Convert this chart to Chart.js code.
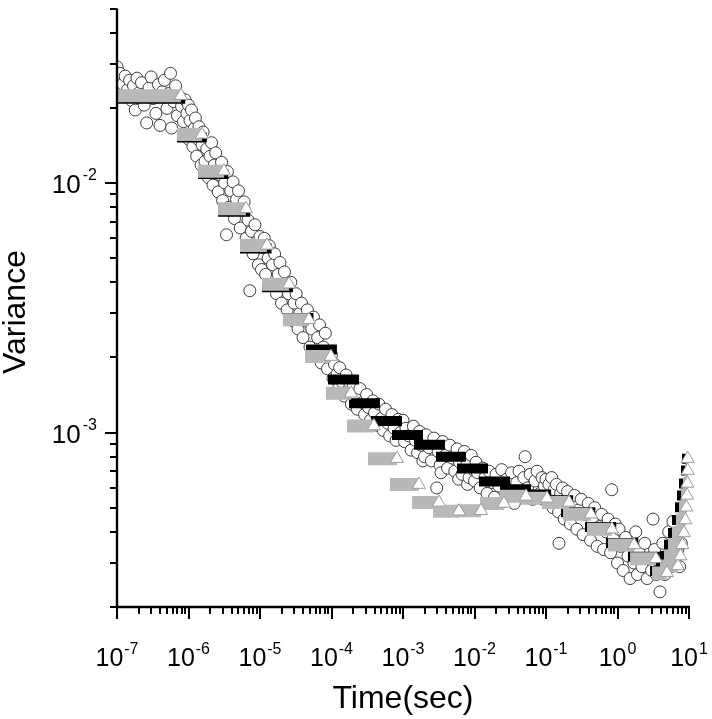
<!DOCTYPE html>
<html>
<head>
<meta charset="utf-8">
<script src="https://cdn.jsdelivr.net/npm/chart.js@4.4.1/dist/chart.umd.min.js"></script>
<style>
    html, body { margin: 0; padding: 0; background: #fff; }
    #wrap { width: 712px; height: 719px; }
</style>
</head>
<body>
<div id="wrap"><canvas id="variance-graph" width="712" height="719"></canvas></div>
<script>
// axis ranges and tick labels
const xRange = [1e-7, 10];
const yRange = [2e-4, 5e-2];
const xDecades = [1e-7, 1e-6, 1e-5, 1e-4, 1e-3, 1e-2, 1e-1, 1, 10];
const xTickExponents = ["-7", "-6", "-5", "-4", "-3", "-2", "-1", "0", "1"];
const yDecades = [1e-4, 1e-3, 1e-2];
const yTickExponents = ["-4", "-3", "-2"];
const tickMultiples = [1, 2, 3, 4, 5, 6, 7, 8, 9];

// open circles: [time (s), variance]
const circlePoints = [
    [1.0e-7, 0.0292], [1.0e-7, 0.0262], [1.05e-7, 0.0238], [1.1e-7, 0.0275], [1.2e-7, 0.0249], [1.25e-7, 0.0222],
    [1.3e-7, 0.0268], [1.4e-7, 0.0236], [1.5e-7, 0.0258], [1.6e-7, 0.0214], [1.7e-7, 0.0245], [1.8e-7, 0.0196],
    [1.9e-7, 0.0263], [2.0e-7, 0.0229], [2.2e-7, 0.0252], [2.4e-7, 0.0205], [2.6e-7, 0.0174], [2.8e-7, 0.0240],
    [3.0e-7, 0.0266], [3.2e-7, 0.0218], [3.5e-7, 0.0190], [3.8e-7, 0.0248], [4.0e-7, 0.0170], [4.3e-7, 0.0232],
    [4.6e-7, 0.0258], [5.0e-7, 0.0199], [5.3e-7, 0.0228], [5.6e-7, 0.0275], [5.8e-7, 0.0166], [6.2e-7, 0.0212],
    [6.6e-7, 0.0245], [7.0e-7, 0.0186], [7.5e-7, 0.0222], [8.0e-7, 0.0203], [8.5e-7, 0.0176], [9.0e-7, 0.0215],
    [9.5e-7, 0.0190],
    [1.0e-6, 0.0205], [1.0e-6, 0.0150], [1.05e-6, 0.0178], [1.1e-6, 0.0196], [1.15e-6, 0.0140], [1.2e-6, 0.0165],
    [1.25e-6, 0.0182], [1.3e-6, 0.0128], [1.35e-6, 0.0150], [1.4e-6, 0.0168], [1.5e-6, 0.0118], [1.55e-6, 0.0142],
    [1.6e-6, 0.0160], [1.7e-6, 0.0122], [1.8e-6, 0.0137], [1.9e-6, 0.0105], [2.0e-6, 0.0128], [2.1e-6, 0.0145],
    [2.2e-6, 0.0098], [2.3e-6, 0.0118], [2.4e-6, 0.0132], [2.6e-6, 0.0092], [2.7e-6, 0.0108], [2.9e-6, 0.0121],
    [3.0e-6, 0.0085], [3.2e-6, 0.0100], [3.4e-6, 0.0062], [3.5e-6, 0.0111], [3.7e-6, 0.0080], [3.9e-6, 0.0093],
    [4.2e-6, 0.0101], [4.4e-6, 0.0072], [4.7e-6, 0.0086], [5.0e-6, 0.0093], [5.3e-6, 0.0066], [5.6e-6, 0.0078],
    [6.0e-6, 0.0084], [6.4e-6, 0.0060], [6.8e-6, 0.0071], [7.2e-6, 0.0037], [7.6e-6, 0.0064], [8.0e-6, 0.0052],
    [8.5e-6, 0.0068], [9.0e-6, 0.0058], [9.5e-6, 0.0047],
    [1.0e-5, 0.0061], [1.05e-5, 0.0045], [1.1e-5, 0.0055], [1.15e-5, 0.0060], [1.2e-5, 0.0043], [1.3e-5, 0.0050],
    [1.35e-5, 0.0056], [1.4e-5, 0.0039], [1.5e-5, 0.0047], [1.6e-5, 0.0052], [1.7e-5, 0.0036], [1.8e-5, 0.0043],
    [1.9e-5, 0.0048], [2.0e-5, 0.0033], [2.1e-5, 0.0039], [2.2e-5, 0.0044], [2.4e-5, 0.0031], [2.5e-5, 0.0036],
    [2.7e-5, 0.0040], [2.9e-5, 0.0028], [3.0e-5, 0.0033], [3.2e-5, 0.0036], [3.4e-5, 0.0026], [3.6e-5, 0.0030],
    [3.8e-5, 0.0033], [4.0e-5, 0.0024], [4.3e-5, 0.0028], [4.6e-5, 0.0031], [5.0e-5, 0.0022], [5.3e-5, 0.0026],
    [5.6e-5, 0.0029], [6.0e-5, 0.0021], [6.4e-5, 0.0024], [6.8e-5, 0.0027], [7.2e-5, 0.0019], [7.7e-5, 0.0022],
    [8.2e-5, 0.0025], [8.8e-5, 0.0018], [9.4e-5, 0.0021],
    [1.0e-4, 0.00205], [1.05e-4, 0.00165], [1.1e-4, 0.00188], [1.2e-4, 0.00172], [1.25e-4, 0.00150], [1.3e-4, 0.00182],
    [1.4e-4, 0.00160], [1.5e-4, 0.00140], [1.6e-4, 0.00170], [1.7e-4, 0.00148], [1.8e-4, 0.00158], [1.9e-4, 0.00130],
    [2.0e-4, 0.00152], [2.2e-4, 0.00140], [2.3e-4, 0.00124], [2.5e-4, 0.00150], [2.7e-4, 0.00132], [2.9e-4, 0.00118],
    [3.1e-4, 0.00142], [3.3e-4, 0.00126], [3.5e-4, 0.00112], [3.8e-4, 0.00134], [4.0e-4, 0.00120], [4.3e-4, 0.00107],
    [4.6e-4, 0.00130], [5.0e-4, 0.00114], [5.3e-4, 0.00102], [5.7e-4, 0.00124], [6.1e-4, 0.00109], [6.5e-4, 0.00097],
    [7.0e-4, 0.00118], [7.5e-4, 0.00104], [8.0e-4, 0.00093], [8.6e-4, 0.00113], [9.2e-4, 0.00100],
    [1.0e-3, 0.00112], [1.05e-3, 0.00092], [1.1e-3, 0.00104], [1.2e-3, 0.00097], [1.3e-3, 0.00085], [1.4e-3, 0.00106],
    [1.5e-3, 0.00093], [1.6e-3, 0.00083], [1.7e-3, 0.00101], [1.8e-3, 0.00089], [1.9e-3, 0.00077], [2.0e-3, 0.00080],
    [2.1e-3, 0.00098], [2.3e-3, 0.00087], [2.5e-3, 0.00077], [2.7e-3, 0.00095], [2.96e-3, 0.00060], [3.1e-3, 0.00084],
    [3.3e-3, 0.00074], [3.4e-3, 0.00069], [3.6e-3, 0.00092], [3.9e-3, 0.00081], [4.2e-3, 0.00072], [4.5e-3, 0.00089],
    [4.9e-3, 0.00079], [5.3e-3, 0.00070], [5.7e-3, 0.00086], [6.0e-3, 0.00065], [6.2e-3, 0.00076], [6.7e-3, 0.00068],
    [7.2e-3, 0.00084], [7.8e-3, 0.00074], [8.0e-3, 0.00062], [8.4e-3, 0.00066], [9.0e-3, 0.00081], [9.6e-3, 0.00071],
    [1.0e-2, 0.00064], [1.05e-2, 0.00076], [1.1e-2, 0.00069], [1.2e-2, 0.00060], [1.3e-2, 0.00072], [1.4e-2, 0.00066],
    [1.5e-2, 0.00057], [1.6e-2, 0.00070], [1.8e-2, 0.00063], [1.9e-2, 0.00055], [2.0e-2, 0.00068], [2.2e-2, 0.00061],
    [2.4e-2, 0.00071], [2.6e-2, 0.00053], [2.8e-2, 0.00065], [3.0e-2, 0.00059], [3.3e-2, 0.00069], [3.6e-2, 0.00052],
    [3.9e-2, 0.00063], [4.2e-2, 0.00070], [4.5e-2, 0.00056], [4.9e-2, 0.00066], [5.1e-2, 0.00080], [5.5e-2, 0.00060],
    [6.0e-2, 0.00068], [6.5e-2, 0.00054], [7.0e-2, 0.00064], [7.5e-2, 0.00070], [8.2e-2, 0.00057], [8.8e-2, 0.00066],
    [9.5e-2, 0.00061],
    [0.10, 0.00065], [0.105, 0.00055], [0.11, 0.00062], [0.12, 0.00066], [0.125, 0.00050], [0.13, 0.00059],
    [0.14, 0.00062], [0.15, 0.00048], [0.152, 0.00036], [0.16, 0.00057], [0.17, 0.00060], [0.18, 0.00045],
    [0.19, 0.00054], [0.20, 0.00058], [0.22, 0.00043], [0.23, 0.00052], [0.25, 0.00056], [0.27, 0.00041],
    [0.29, 0.00049], [0.31, 0.00054], [0.33, 0.00039], [0.36, 0.00047], [0.39, 0.00052], [0.42, 0.00037],
    [0.45, 0.00044], [0.48, 0.00050], [0.52, 0.00035], [0.56, 0.00042], [0.60, 0.00047], [0.64, 0.00034],
    [0.69, 0.00040], [0.74, 0.00045], [0.80, 0.00033], [0.83, 0.00059], [0.87, 0.00038], [0.93, 0.00043],
    [1.0, 0.00030], [1.05, 0.00041], [1.1, 0.00035], [1.2, 0.00028], [1.3, 0.00038], [1.4, 0.00032],
    [1.5, 0.00026], [1.6, 0.00035], [1.7, 0.00030], [1.8, 0.00040], [1.9, 0.00027], [2.0, 0.00033],
    [2.2, 0.00029], [2.4, 0.00036], [2.6, 0.00026], [2.8, 0.00031], [3.0, 0.00028], [3.14, 0.00045],
    [3.3, 0.00034], [3.5, 0.00027], [3.7, 0.00031], [3.93, 0.00023], [4.1, 0.00029], [4.3, 0.00036],
    [4.6, 0.00027], [4.9, 0.00032], [5.2, 0.00040], [5.5, 0.00029], [5.8, 0.00035], [5.97, 0.00044],
    [6.3, 0.00031], [6.6, 0.00038], [7.0, 0.00034], [7.4, 0.00029], [7.8, 0.00036]
];

// grey triangle steps (start time, end time, level)
const greyStart = [1e-7, 6.9e-7, 1.36e-6, 2.59e-6, 5.25e-6, 1.07e-5, 2.1e-5, 4.26e-5, 8.37e-5, 1.65e-4, 3.24e-4,
    6.58e-4, 1.34e-3, 2.63e-3, 5.69e-3, 0.01194, 0.02274, 0.0447, 0.0879, 0.173, 0.374, 0.736, 1.5, 3.04,
    3.93, 4.47, 5.08, 5.78, 6.58, 7.25, 7.73, 8.24, 8.79, 9.08];
const greyEnd = [7.85e-7, 1.54e-6, 3.13e-6, 6.37e-6, 1.25e-5, 2.55e-5, 4.84e-5, 9.8e-5, 1.88e-4, 3.92e-4, 8.24e-4,
    1.67e-3, 3.18e-3, 6.06e-3, 0.01233, 0.02584, 0.0525, 0.1033, 0.2099, 0.425, 0.837, 1.706, 3.45, 4.92,
    7.0, 7.6, 8.1, 8.5, 8.9, 9.2, 9.4, 9.5, 9.6, 9.6];
const greyLevel = [0.02236, 0.01565, 0.01115, 0.00788, 0.00562, 0.00393, 0.00283, 0.002016, 0.001437, 0.001062,
    7.86e-4, 6.19e-4, 5.25e-4, 4.84e-4, 4.86e-4, 5.2e-4, 5.55e-4, 5.45e-4, 5.25e-4, 4.71e-4, 4.1e-4, 3.545e-4,
    3.12e-4, 2.74e-4, 2.92e-4, 3.2e-4, 3.55e-4, 3.96e-4, 4.46e-4, 5.02e-4, 5.6e-4, 6.25e-4, 7.04e-4, 7.86e-4];

// black steps (start time, end time, level)
const blackStart = [1e-7, 6.9e-7, 1.36e-6, 2.59e-6, 5.25e-6, 1.07e-5, 2.1e-5, 4.4e-5, 8.93e-5, 1.76e-4, 3.56e-4,
    7.02e-4, 1.426e-3, 2.89e-3, 5.69e-3, 0.01156, 0.02274, 0.0419, 0.0824, 0.162, 0.351, 0.69, 1.4, 2.85,
    3.45, 3.93, 4.47, 5.08, 5.78, 6.37, 6.79, 7.25, 7.73, 7.98];
const blackEnd = [9.0e-7, 1.8e-6, 3.6e-6, 7.3e-6, 1.45e-5, 2.9e-5, 5.6e-5, 1.19e-4, 2.43e-4, 4.76e-4, 9.68e-4,
    1.905e-3, 3.86e-3, 7.6e-3, 0.01545, 0.03136, 0.0617, 0.118, 0.24, 0.49, 0.96, 1.95, 3.9, 5.5,
    7.0, 7.6, 8.1, 8.5, 8.9, 9.2, 9.4, 9.5, 9.6, 9.6];
const blackLevel = [0.02176, 0.01522, 0.01085, 0.00766, 0.00546, 0.00382, 0.00288, 0.002149, 0.001633, 0.001311,
    0.001112, 9.78e-4, 8.93e-4, 8.0e-4, 7.17e-4, 6.37e-4, 5.92e-4, 5.65e-4, 5.35e-4, 4.79e-4, 4.18e-4, 3.61e-4,
    3.18e-4, 2.79e-4, 2.92e-4, 3.2e-4, 3.55e-4, 3.96e-4, 4.46e-4, 5.02e-4, 5.6e-4, 6.25e-4, 7.04e-4, 7.86e-4];

const FONT = "'Liberation Sans', Arial, sans-serif";

function stepSegments(starts, ends, levels) {
    const pts = [];
    levels.forEach((v, i) => {
        pts.push({ x: starts[i], y: v });
        pts.push({ x: ends[i], y: v });
        pts.push({ x: ends[i], y: null });
    });
    return pts;
}

// axes, ticks and labels drawn the Origin way (outside ticks, superscript labels)
const originAxes = {
    id: "originAxes",
    afterDraw(chart) {
        const ctx = chart.ctx;
        const xs = chart.scales.x;
        const ys = chart.scales.y;
        const area = chart.chartArea;
        ctx.save();
        ctx.strokeStyle = "#000";
        ctx.fillStyle = "#000";
        ctx.lineWidth = 2.4;
        ctx.beginPath();
        ctx.moveTo(area.left, area.top);
        ctx.lineTo(area.left, area.bottom);
        ctx.lineTo(area.right + 1, area.bottom);
        ctx.stroke();

        ctx.lineWidth = 2;
        ctx.beginPath();
        xDecades.forEach(d => {
            tickMultiples.forEach(m => {
                const v = d * m;
                if (v < xRange[0] * 0.999 || v > xRange[1] * 1.001) return;
                const px = Math.round(xs.getPixelForValue(v));
                ctx.moveTo(px, area.bottom);
                ctx.lineTo(px, area.bottom + (m === 1 ? 12 : 7));
            });
        });
        yDecades.forEach(d => {
            tickMultiples.forEach(m => {
                const v = d * m;
                if (v < yRange[0] * 0.999 || v > yRange[1] * 1.001) return;
                const py = Math.round(ys.getPixelForValue(v));
                ctx.moveTo(area.left, py);
                ctx.lineTo(area.left - (m === 1 ? 12 : 7), py);
            });
        });
        ctx.stroke();

        // tick labels
        ctx.textBaseline = "alphabetic";
        ctx.textAlign = "left";
        xDecades.forEach((d, i) => {
            const px = xs.getPixelForValue(d);
            ctx.font = "25px " + FONT;
            const w1 = ctx.measureText("10").width;
            ctx.font = "16px " + FONT;
            const w2 = ctx.measureText(xTickExponents[i]).width;
            const x0 = px - (w1 + 1 + w2) / 2;
            ctx.font = "25px " + FONT;
            ctx.fillText("10", x0, 666);
            ctx.font = "16px " + FONT;
            ctx.fillText(xTickExponents[i], x0 + w1 + 1, 654);
        });
        yDecades.forEach((d, i) => {
            if (d < yRange[0]) return;
            const py = ys.getPixelForValue(d);
            ctx.font = "16px " + FONT;
            const w2 = ctx.measureText(yTickExponents[i]).width;
            ctx.font = "26px " + FONT;
            const w1 = ctx.measureText("10").width;
            const x0 = 97 - w2 - 2 - w1;
            ctx.fillText("10", x0, py + 10);
            ctx.font = "16px " + FONT;
            ctx.fillText(yTickExponents[i], x0 + w1 + 2, py - 3);
        });

        // axis titles
        ctx.font = "32px " + FONT;
        ctx.textAlign = "center";
        ctx.fillText("Time(sec)", (area.left + area.right) / 2, 708);
        ctx.translate(25, 312);
        ctx.rotate(-Math.PI / 2);
        ctx.fillText("Variance", 0, 0);
        ctx.restore();
    }
};

const ctx = document.getElementById("variance-graph").getContext("2d");

new Chart(ctx, {
    type: "scatter",
    data: {
        datasets: [
            {
                label: "grey step ends",
                data: greyEnd.map((t, i) => ({ x: t, y: greyLevel[i] })),
                pointStyle: "triangle",
                pointRadius: 7.5,
                backgroundColor: "#ffffff",
                borderColor: "#9c9c9c",
                borderWidth: 1,
                clip: false,
            },
            {
                label: "grey steps",
                data: stepSegments(greyStart, greyEnd, greyLevel),
                showLine: true,
                spanGaps: false,
                pointRadius: 0,
                borderColor: "#b8b8b8",
                borderWidth: 13,
                borderCapStyle: "butt",
                clip: false,
            },
            {
                label: "black steps",
                data: stepSegments(blackStart, blackEnd, blackLevel),
                showLine: true,
                spanGaps: false,
                pointRadius: 0,
                borderColor: "#000000",
                borderWidth: 10,
                borderCapStyle: "butt",
                clip: false,
            },
            {
                label: "variance",
                data: circlePoints.map(p => ({ x: p[0], y: p[1] })),
                pointStyle: "circle",
                pointRadius: 6,
                backgroundColor: "#ffffff",
                borderColor: "#3c3c3c",
                borderWidth: 1,
                clip: 0,
            },
        ],
    },
    options: {
        responsive: false,
        animation: false,
        layout: { padding: { top: 4, right: 23, left: 0, bottom: 0 } },
        plugins: {
            legend: { display: false },
            tooltip: { enabled: false },
        },
        scales: {
            x: {
                type: "logarithmic",
                min: xRange[0],
                max: xRange[1],
                grid: { display: false },
                border: { display: false },
                ticks: { display: false },
                afterFit: scale => { scale.height = 112; },
            },
            y: {
                type: "logarithmic",
                min: yRange[0],
                max: yRange[1],
                grid: { display: false },
                border: { display: false },
                ticks: { display: false },
                afterFit: scale => { scale.width = 117; },
            },
        },
    },
    plugins: [originAxes],
});
</script>
</body>
</html>
